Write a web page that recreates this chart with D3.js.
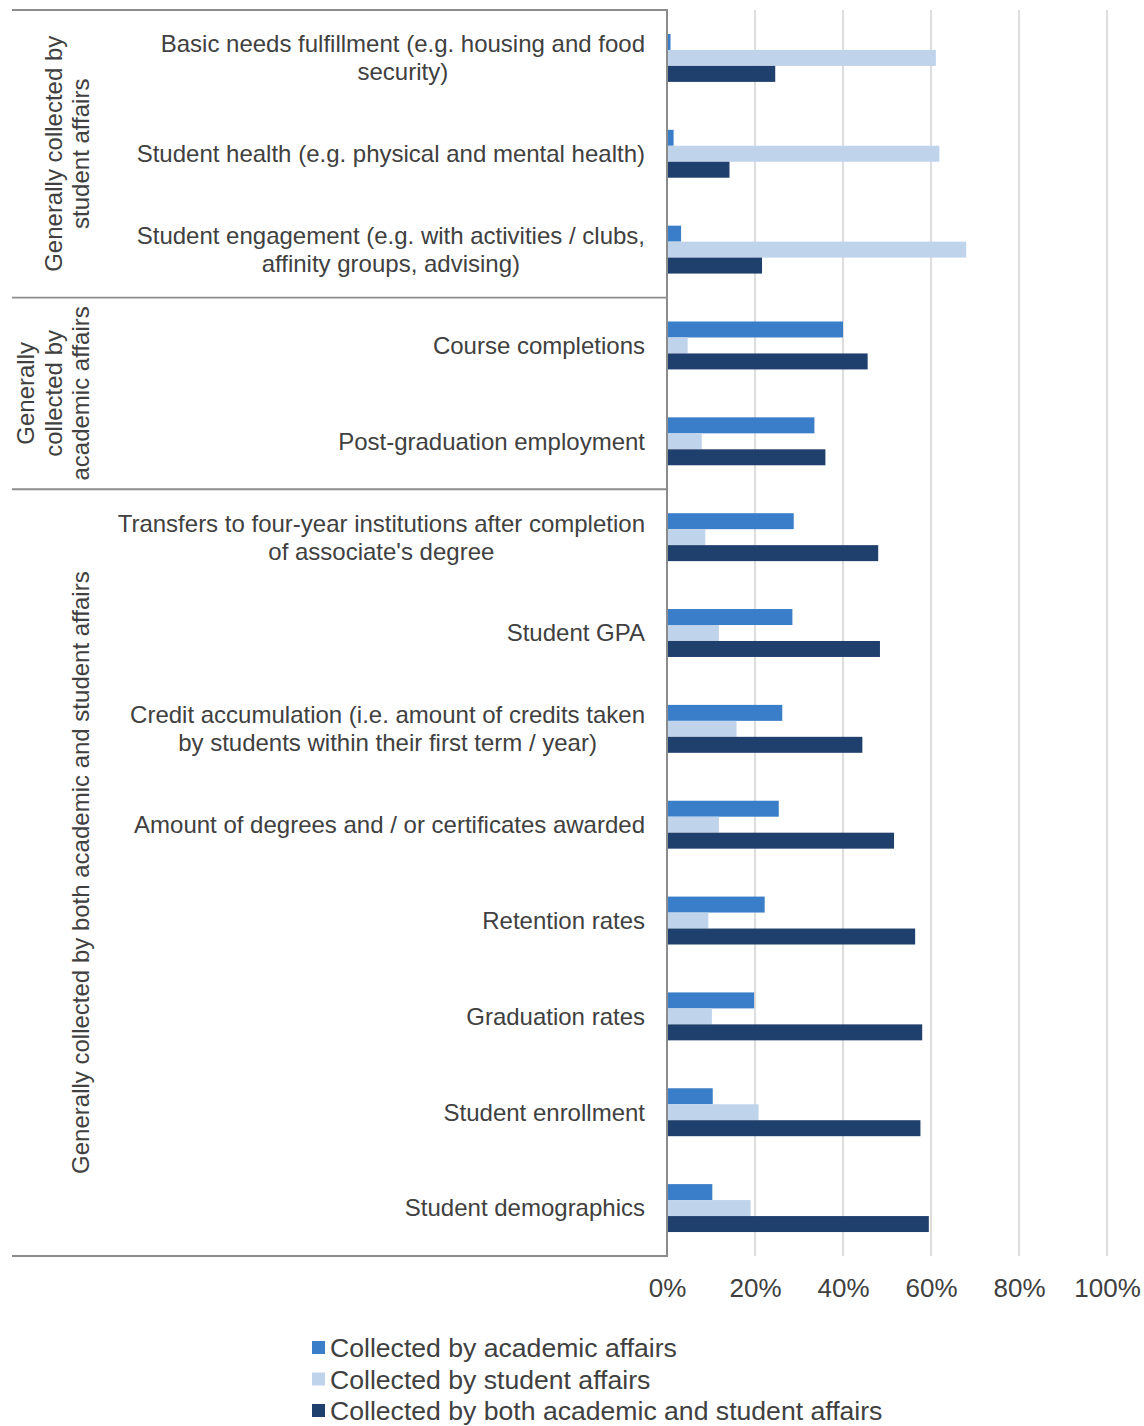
<!DOCTYPE html>
<html>
<head>
<meta charset="utf-8">
<script src="https://cdn.jsdelivr.net/npm/d3@7"></script>
<style>
  body { margin: 0; background: #fff; }
  svg { display: block; }
  text { font-family: "Liberation Sans", Arial, Helvetica, sans-serif; fill: #404040; }
</style>
</head>
<body>
<svg id="chart" width="1144" height="1426"></svg>
<script>
// Data items, top to bottom; each label is split into its display lines
const categories = [
  "Basic needs fulfillment (e.g. housing and food security)",
  "Student health (e.g. physical and mental health)",
  "Student engagement (e.g. with activities / clubs, affinity groups, advising)",
  "Course completions",
  "Post-graduation employment",
  "Transfers to four-year institutions after completion of associate's degree",
  "Student GPA",
  "Credit accumulation (i.e. amount of credits taken by students within their first term / year)",
  "Amount of degrees and / or certificates awarded",
  "Retention rates",
  "Graduation rates",
  "Student enrollment",
  "Student demographics"
];
const categoryLines = [
  ["Basic needs fulfillment (e.g. housing and food", "security)"],
  ["Student health (e.g. physical and mental health)"],
  ["Student engagement (e.g. with activities / clubs,", "affinity groups, advising)"],
  ["Course completions"],
  ["Post-graduation employment"],
  ["Transfers to four-year institutions after completion", "of associate's degree"],
  ["Student GPA"],
  ["Credit accumulation (i.e. amount of credits taken", "by students within their first term / year)"],
  ["Amount of degrees and / or certificates awarded"],
  ["Retention rates"],
  ["Graduation rates"],
  ["Student enrollment"],
  ["Student demographics"]
];

// Outer grouping of the items
const groupLabels = [
  ["Generally collected by", "student affairs"],
  ["Generally", "collected by", "academic affairs"],
  ["Generally collected by both academic and student affairs"]
];
const groupSizes = [3, 2, 8];

// Share of institutions (%) per series
const academic = [0.8, 1.5, 3.2, 40.0, 33.5, 28.8, 28.5, 26.2, 25.4, 22.2, 19.8, 10.4, 10.3];
const student  = [61.1, 61.9, 68.0, 4.7, 7.9, 8.7, 11.8, 15.8, 11.8, 9.4, 10.2, 20.8, 19.0];
const both     = [24.6, 14.2, 21.6, 45.6, 36.0, 48.0, 48.4, 44.4, 51.6, 56.4, 58.0, 57.6, 59.5];

const seriesNames = [
  "Collected by academic affairs",
  "Collected by student affairs",
  "Collected by both academic and student affairs"
];
const seriesColors = ["#3a7ec9", "#bfd3eb", "#1f3f6d"];
const tickValues = [0, 20, 40, 60, 80, 100];

const series = [academic, student, both];

const svg = d3.select("#chart");

const plotTop = 10, plotBottom = 1256, axisX = 667, axisRight = 1107, frameLeft = 12;

const x = d3.scaleLinear().domain([0, 100]).range([axisX, axisRight]);
const y = d3.scaleBand().domain(categories).range([plotTop, plotBottom]).paddingInner(0).paddingOuter(0);
const y1 = d3.scaleBand().domain(d3.range(series.length)).range([0, y.bandwidth()])
  .paddingInner(0).paddingOuter(1.5);

// Vertical gridlines
svg.append("g")
  .selectAll("line")
  .data(tickValues.filter(d => d > 0))
  .join("line")
  .attr("x1", d => x(d)).attr("x2", d => x(d))
  .attr("y1", plotTop).attr("y2", plotBottom)
  .attr("stroke", "#d2d2d2").attr("stroke-width", 1.5);

// Bars
const rows = categories.map((c, i) => ({ cat: c, values: series.map(s => s[i]) }));
const rowG = svg.append("g").selectAll("g")
  .data(rows)
  .join("g")
  .attr("transform", d => `translate(0,${y(d.cat)})`);

rowG.selectAll("rect")
  .data(d => d.values.map((v, k) => ({ v, k })))
  .join("rect")
  .attr("x", x(0))
  .attr("y", d => y1(d.k))
  .attr("width", d => x(d.v) - x(0))
  .attr("height", y1.bandwidth())
  .attr("fill", d => seriesColors[d.k]);

// Category labels, multi-line blocks centred on their own widest line and right-aligned to the axis
const labelRight = axisX - 22, lineH = 28;
categoryLines.forEach((lines, i) => {
  const cy = y(categories[i]) + y.bandwidth() / 2;
  const t = svg.append("text").attr("font-size", 24).attr("text-anchor", "middle");
  const spans = lines.map((ln, j) => t.append("tspan")
    .attr("y", cy + (j - (lines.length - 1) / 2) * lineH)
    .attr("dy", "0.35em")
    .text(ln));
  const maxW = d3.max(spans, s => s.node().getComputedTextLength());
  spans.forEach(s => s.attr("x", labelRight - maxW / 2));
});

// Group separators and frame
let idx = 0;
const boundaries = [plotTop];
groupSizes.forEach(n => { idx += n; boundaries.push(y(categories[idx - 1]) + y.bandwidth()); });

svg.append("g")
  .selectAll("line")
  .data(boundaries)
  .join("line")
  .attr("x1", frameLeft).attr("x2", axisX)
  .attr("y1", d => d).attr("y2", d => d)
  .attr("stroke", "#8c8c8c").attr("stroke-width", 1.8);

// Vertical category axis line
svg.append("line")
  .attr("x1", axisX).attr("x2", axisX)
  .attr("y1", plotTop - 0.9).attr("y2", plotBottom + 0.9)
  .attr("stroke", "#8c8c8c").attr("stroke-width", 2);

// Group labels, rotated
groupLabels.forEach((lines, g) => {
  const y0 = boundaries[g], y1b = boundaries[g + 1];
  const cy = (y0 + y1b) / 2;
  const lastBase = 89, gh = 27.5;
  const t = svg.append("text")
    .attr("font-size", 24)
    .attr("text-anchor", "middle")
    .attr("transform", `rotate(-90)`);
  lines.forEach((ln, j) => {
    t.append("tspan")
      .attr("x", -cy)
      .attr("y", lastBase - (lines.length - 1 - j) * gh)
      .text(ln);
  });
});

// Value axis labels
const xAxis = d3.axisBottom(x)
  .tickValues(tickValues)
  .tickSize(0)
  .tickPadding(0)
  .tickFormat(d => d + "%");
const ax = svg.append("g").attr("transform", `translate(0,${plotBottom})`).call(xAxis);
ax.select(".domain").remove();
ax.selectAll("text")
  .attr("font-family", '"Liberation Sans", Arial, sans-serif')
  .attr("font-size", 26)
  .attr("fill", "#404040")
  .attr("y", 41)
  .attr("dy", 0);

// Legend
const legend = svg.append("g").attr("transform", "translate(312,1348)");
const li = legend.selectAll("g")
  .data(seriesNames)
  .join("g")
  .attr("transform", (d, i) => `translate(0,${i * 31.5})`);
li.append("rect")
  .attr("x", 0).attr("y", -7).attr("width", 13).attr("height", 13)
  .attr("fill", (d, i) => seriesColors[i]);
li.append("text")
  .attr("x", 18).attr("y", 0).attr("dy", "0.35em")
  .attr("font-size", 26.6)
  .text(d => d);
</script>
</body>
</html>
